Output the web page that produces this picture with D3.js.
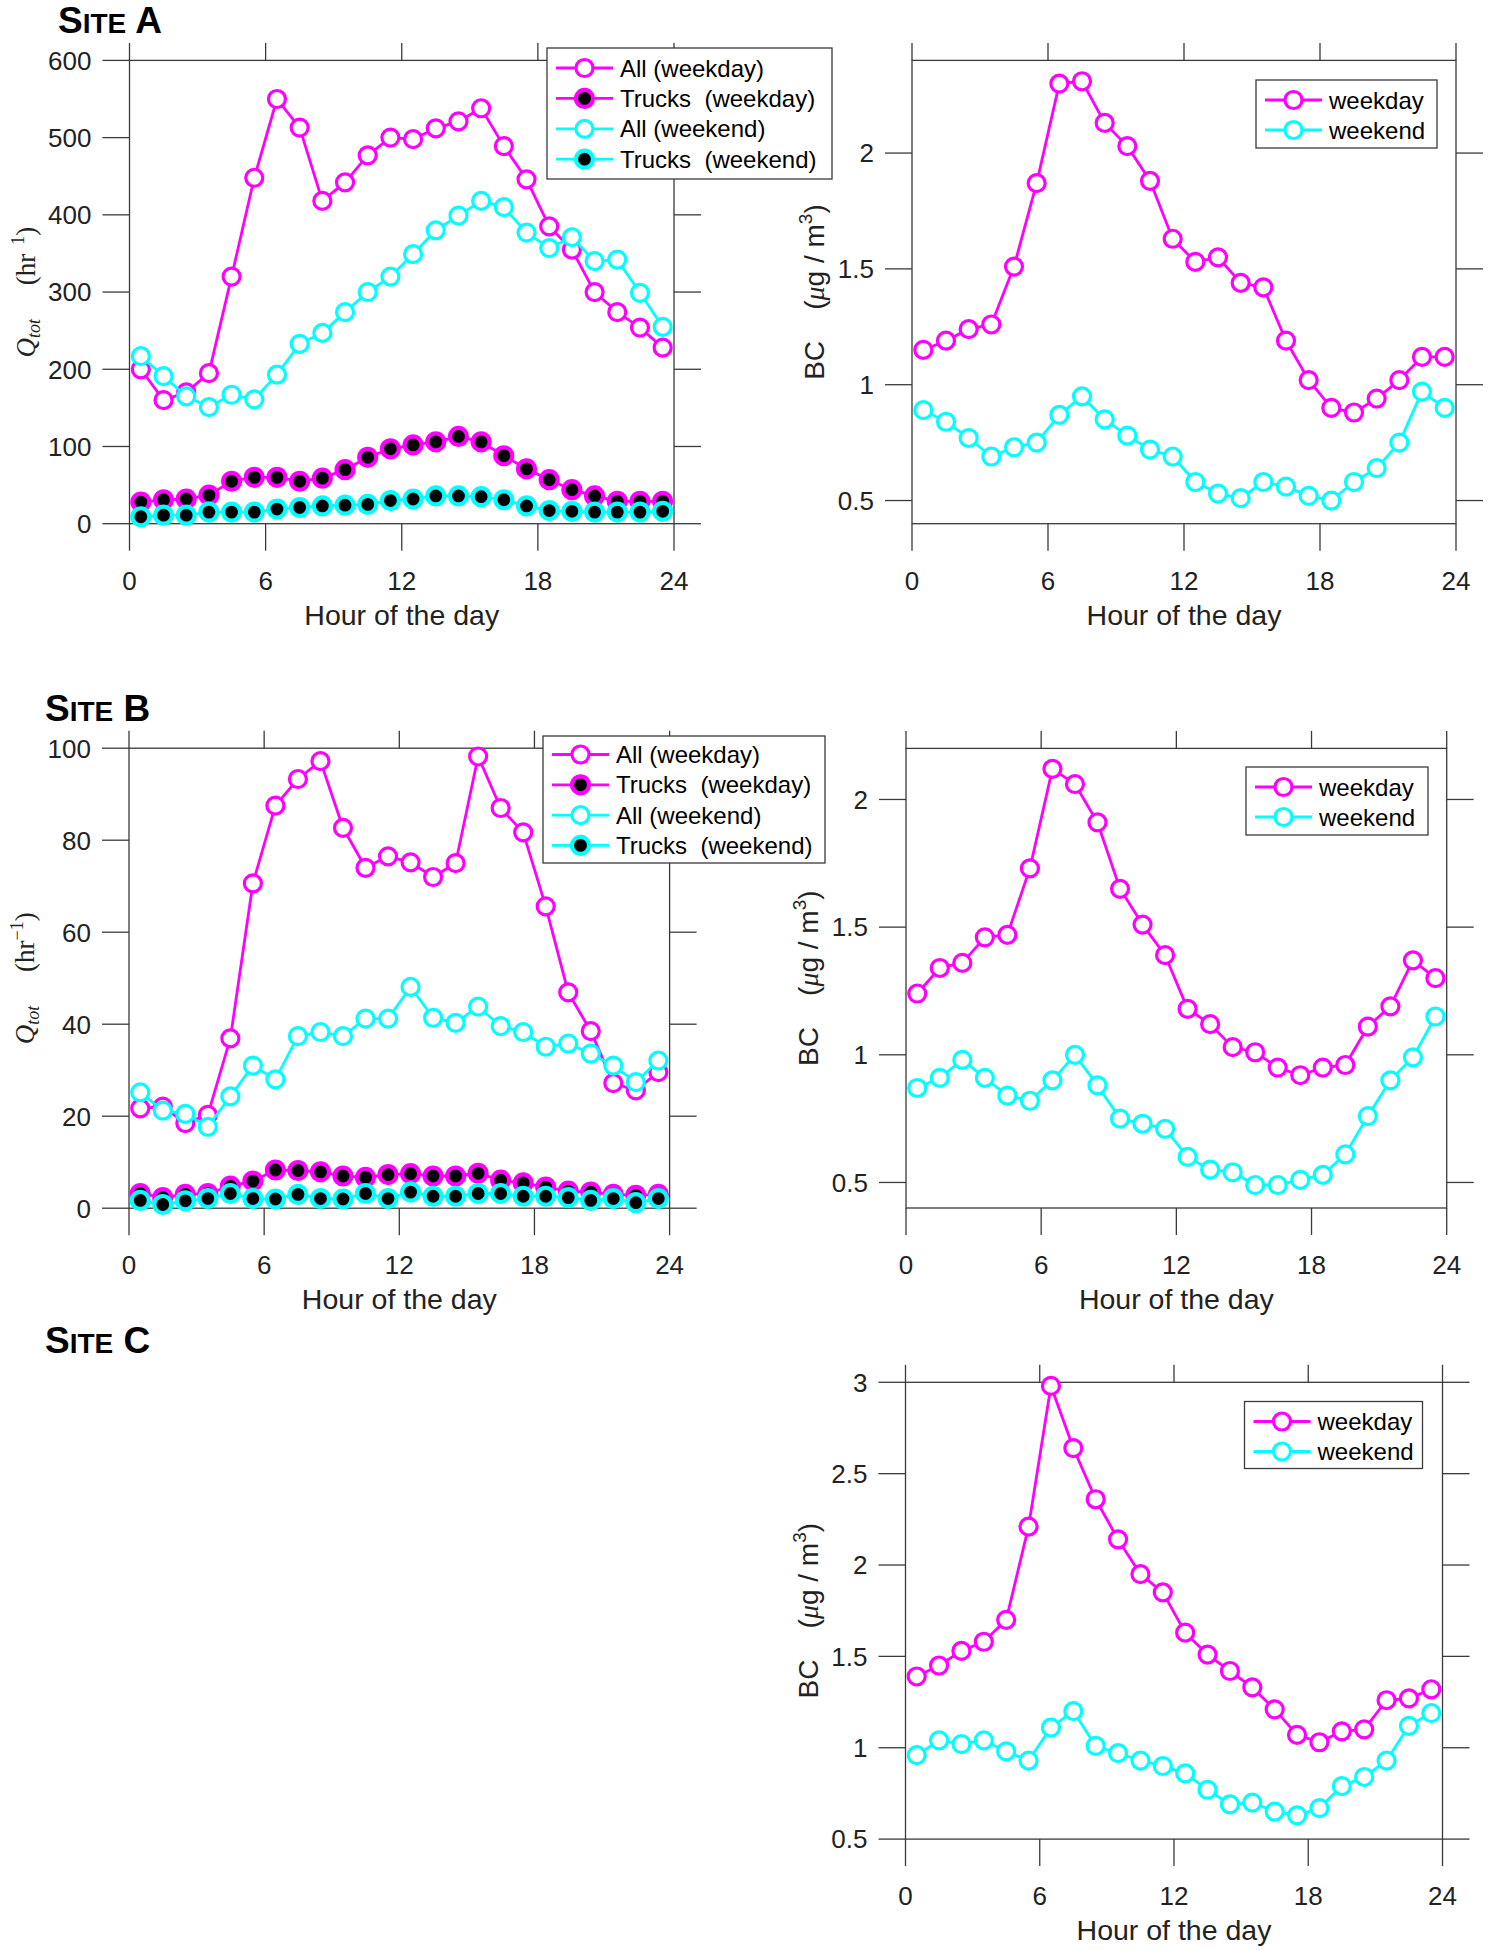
<!DOCTYPE html>
<html><head><meta charset="utf-8">
<script src="https://cdn.jsdelivr.net/npm/d3@7"></script>
<style>body{margin:0;background:#fff} svg{display:block}</style>
</head><body>
<svg id="chart" width="1489" height="1950"></svg>
<script>
// ---------- data ----------
const hours = [0.5,1.5,2.5,3.5,4.5,5.5,6.5,7.5,8.5,9.5,10.5,11.5,12.5,13.5,14.5,15.5,16.5,17.5,18.5,19.5,20.5,21.5,22.5,23.5];
const xTicks = [0,6,12,18,24];
const xTickLabels = ["0","6","12","18","24"];

// Site A traffic (hr^-1)
const siteA_allWeekday    = [200,160,170,195,320,448,550,513,418,442,477,500,498,512,521,538,489,446,385,355,300,274,254,228];
const siteA_trucksWeekday = [28,31,32,37,55,60,60,55,59,70,86,97,102,106,113,106,88,71,57,44,36,29,29,29];
const siteA_allWeekend    = [217,191,165,151,167,161,193,233,247,274,300,320,349,380,399,418,410,377,357,371,340,342,299,255];
const siteA_trucksWeekend = [9,11,11,15,15,15,19,21,23,24,25,30,32,36,36,35,31,23,17,16,15,15,15,16];
// Site A BC (ug/m3)
const siteA_bcWeekday = [1.15,1.19,1.24,1.26,1.51,1.87,2.30,2.31,2.13,2.03,1.88,1.63,1.53,1.55,1.44,1.42,1.19,1.02,0.90,0.88,0.94,1.02,1.12,1.12];
const siteA_bcWeekend = [0.89,0.84,0.77,0.69,0.73,0.75,0.87,0.95,0.85,0.78,0.72,0.69,0.58,0.53,0.51,0.58,0.56,0.52,0.50,0.58,0.64,0.75,0.97,0.90];

// Site B traffic (hr^-1)
const siteB_allWeekday    = [21.7,22.1,18.5,20.3,36.9,70.6,87.5,93.3,97.2,82.7,74,76.5,75.2,72,75,98.2,87,81.7,65.6,46.9,38.5,27.2,25.6,29.6];
const siteB_trucksWeekday = [3.2,2.3,3,3.2,4.8,5.9,8.3,8.2,7.9,7,6.7,7.3,7.5,7,7,7.6,6.1,5.5,4.6,3.7,3.5,3,2.8,3];
const siteB_allWeekend    = [25.2,21.2,20.5,17.7,24.3,31,28,37.4,38.3,37.4,41.2,41.2,48.1,41.4,40.3,43.8,39.6,38.3,35.1,35.8,33.6,31,27.4,32.1];
const siteB_trucksWeekend = [1.7,0.8,1.6,2.1,3.2,2.1,2,3,2.1,2,3.2,2.1,3.5,2.6,2.6,3.2,3.2,2.6,2.6,2.3,1.7,2.1,1.2,2.1];
// Site B BC
const siteB_bcWeekday = [1.24,1.34,1.36,1.46,1.47,1.73,2.12,2.06,1.91,1.65,1.51,1.39,1.18,1.12,1.03,1.01,0.95,0.92,0.95,0.96,1.11,1.19,1.37,1.30];
const siteB_bcWeekend = [0.87,0.91,0.98,0.91,0.84,0.82,0.90,1.00,0.88,0.75,0.73,0.71,0.60,0.55,0.54,0.49,0.49,0.51,0.53,0.61,0.76,0.90,0.99,1.15];

// Site C BC
const siteC_bcWeekday = [1.39,1.45,1.53,1.58,1.70,2.21,2.98,2.64,2.36,2.14,1.95,1.85,1.63,1.51,1.42,1.33,1.21,1.07,1.03,1.09,1.10,1.26,1.27,1.32];
const siteC_bcWeekend = [0.96,1.04,1.02,1.04,0.98,0.93,1.11,1.20,1.01,0.97,0.93,0.90,0.86,0.77,0.69,0.70,0.65,0.63,0.67,0.79,0.84,0.93,1.12,1.19];

const qTicks = {A:[0,100,200,300,400,500,600], B:[0,20,40,60,80,100]};
const qTickLabels = {A:["0","100","200","300","400","500","600"], B:["0","20","40","60","80","100"]};
const bcTicksAB = [0.5,1,1.5,2];
const bcTickLabelsAB = ["0.5","1","1.5","2"];
const bcTicksC = [0.5,1,1.5,2,2.5,3];
const bcTickLabelsC = ["0.5","1","1.5","2","2.5","3"];

const trafficNames = ["All (weekday)","Trucks  (weekday)","All (weekend)","Trucks  (weekend)"];
const bcNames = ["weekday","weekend"];
const siteTitles = [["S","ITE"," A"],["S","ITE"," B"],["S","ITE"," C"]];

// ---------- style ----------
const MAG = "#ff00ff", CYA = "#00ffff", AX = "#3a3a3a";
const SANS = "'Liberation Sans', Arial, sans-serif";
const SERIF = "'Liberation Serif', 'Times New Roman', serif";
const seriesStyles = [
  {color:MAG, fill:"#ffffff", r:8.5, sw:3.2},
  {color:MAG, fill:"#000000", r:8.5, sw:4.2},
  {color:CYA, fill:"#ffffff", r:8.5, sw:3.2},
  {color:CYA, fill:"#000000", r:8.5, sw:4.2}
];
const bcStyles = [seriesStyles[0], seriesStyles[2]];

const svg = d3.select("#chart");

function drawTitle(parts, x, y){
  const t = svg.append("text").attr("x",x).attr("y",y)
    .attr("font-family",SANS).attr("font-weight","bold").attr("fill","#000");
  t.append("tspan").attr("font-size",37).text(parts[0]);
  t.append("tspan").attr("font-size",28).text(parts[1]);
  t.append("tspan").attr("font-size",37).attr("xml:space","preserve").text(parts[2]);
}

function drawPanel(cfg){
  const x = d3.scaleLinear().domain([0,24]).range([cfg.x0,cfg.x1]);
  const y = d3.scaleLinear().domain(cfg.domain).range([cfg.yBot,cfg.yTop]);
  const g = svg.append("g");

  // box
  g.append("rect").attr("x",cfg.x0).attr("y",cfg.yTop)
    .attr("width",cfg.x1-cfg.x0).attr("height",cfg.yBot-cfg.yTop)
    .attr("fill","none").attr("stroke",AX).attr("stroke-width",1.3);
  // outward y ticks on left and right
  g.selectAll(null).data(cfg.yTicks).join("line")
    .attr("x1",cfg.x0-27).attr("x2",cfg.x0)
    .attr("y1",d=>y(d)).attr("y2",d=>y(d))
    .attr("stroke",AX).attr("stroke-width",1.3);
  g.selectAll(null).data(cfg.yTicks).join("line")
    .attr("x1",cfg.x1).attr("x2",cfg.x1+27)
    .attr("y1",d=>y(d)).attr("y2",d=>y(d))
    .attr("stroke",AX).attr("stroke-width",1.3);
  // outward x ticks on top and bottom
  g.selectAll(null).data(xTicks).join("line")
    .attr("x1",d=>x(d)).attr("x2",d=>x(d))
    .attr("y1",cfg.yTop-17.5).attr("y2",cfg.yTop)
    .attr("stroke",AX).attr("stroke-width",1.3);
  g.selectAll(null).data(xTicks).join("line")
    .attr("x1",d=>x(d)).attr("x2",d=>x(d))
    .attr("y1",cfg.yBot).attr("y2",cfg.yBot+27)
    .attr("stroke",AX).attr("stroke-width",1.3);

  // tick labels
  g.selectAll(null).data(cfg.yTicks).join("text")
    .attr("x",cfg.x0-38).attr("y",d=>y(d)).attr("dy","0.36em")
    .attr("text-anchor","end").attr("font-family",SANS).attr("font-size",26).attr("fill","#222")
    .text((d,i)=>cfg.yTickLabels[i]);
  g.selectAll(null).data(xTicks).join("text")
    .attr("x",d=>x(d)).attr("y",cfg.yBot+66)
    .attr("text-anchor","middle").attr("font-family",SANS).attr("font-size",26).attr("fill","#222")
    .text((d,i)=>xTickLabels[i]);

  // x label
  g.append("text").attr("x",(cfg.x0+cfg.x1)/2).attr("y",cfg.yBot+101)
    .attr("text-anchor","middle").attr("font-family",SANS).attr("font-size",28.5).attr("fill","#222")
    .text("Hour of the day");

  // y label
  const cy = (cfg.yTop+cfg.yBot)/2;
  if(cfg.kind==="Q"){
    const t = g.append("text").attr("transform",`translate(${cfg.x0-95},${cy}) rotate(-90)`)
      .attr("text-anchor","middle").attr("font-family",SERIF).attr("fill","#222").attr("xml:space","preserve");
    t.append("tspan").attr("font-size",27).attr("font-style","italic").text("Q");
    t.append("tspan").attr("font-size",18).attr("font-style","italic").attr("dy",5).text("tot");
    t.append("tspan").attr("font-size",27).attr("dy",-5).text("     (hr");
    t.append("tspan").attr("font-size",18).attr("dy",-11).text(cfg.supText);
    t.append("tspan").attr("font-size",27).attr("dy",11).text(")");
  } else {
    const t = g.append("text").attr("transform",`translate(${cfg.x0-88},${cy}) rotate(-90)`)
      .attr("text-anchor","middle").attr("font-family",SANS).attr("fill","#222").attr("xml:space","preserve");
    t.append("tspan").attr("font-size",28).text("BC    (");
    t.append("tspan").attr("font-size",28).attr("font-family",SERIF).attr("font-style","italic").text("\u03bc");
    t.append("tspan").attr("font-size",28).text("g / m");
    t.append("tspan").attr("font-size",19).attr("dy",-12).text("3");
    t.append("tspan").attr("font-size",28).attr("dy",12).text(")");
  }

  // series
  const line = d3.line().x((d,i)=>x(hours[i])).y(d=>y(d));
  cfg.series.forEach((vals,si)=>{
    const st = cfg.styles[si];
    g.append("path").datum(vals).attr("d",line)
      .attr("fill","none").attr("stroke",st.color).attr("stroke-width",2.8).attr("stroke-linejoin","round");
    g.selectAll(null).data(vals).join("circle")
      .attr("cx",(d,i)=>x(hours[i])).attr("cy",d=>y(d)).attr("r",st.r)
      .attr("fill",st.fill).attr("stroke",st.color).attr("stroke-width",st.sw);
  });

  // legend
  const L = cfg.legend;
  const lg = svg.append("g");
  lg.append("rect").attr("x",L.x).attr("y",L.y).attr("width",L.w).attr("height",L.h)
    .attr("fill","#fff").attr("stroke",AX).attr("stroke-width",1.3);
  cfg.names.forEach((nm,i)=>{
    const ry = L.y + L.first + L.step*i;
    const st = cfg.styles[i];
    lg.append("line").attr("x1",L.x+9).attr("x2",L.x+66).attr("y1",ry).attr("y2",ry)
      .attr("stroke",st.color).attr("stroke-width",2.8);
    lg.append("circle").attr("cx",L.x+37.5).attr("cy",ry).attr("r",st.r)
      .attr("fill",st.fill).attr("stroke",st.color).attr("stroke-width",st.sw);
    lg.append("text").attr("x",L.x+73).attr("y",ry).attr("dy","0.36em")
      .attr("font-family",SANS).attr("font-size",24).attr("fill","#000").attr("xml:space","preserve")
      .text(nm);
  });
}

// ---------- layout ----------
drawTitle(siteTitles[0], 58, 33);
drawTitle(siteTitles[1], 45, 721);
drawTitle(siteTitles[2], 45, 1353);

drawPanel({kind:"Q", x0:129.5, x1:674, yTop:60.4, yBot:523.7, domain:[0,600],
  yTicks:qTicks.A, yTickLabels:qTickLabels.A, supText:"  1",
  series:[siteA_allWeekday,siteA_trucksWeekday,siteA_allWeekend,siteA_trucksWeekend],
  styles:seriesStyles, names:trafficNames,
  legend:{x:547,y:48,w:285,h:131,first:20,step:30.4}});

drawPanel({kind:"BC", x0:912, x1:1456, yTop:60.4, yBot:523.7, domain:[0.4,2.4],
  yTicks:bcTicksAB, yTickLabels:bcTickLabelsAB,
  series:[siteA_bcWeekday,siteA_bcWeekend], styles:bcStyles, names:bcNames,
  legend:{x:1256,y:80,w:181,h:68,first:20,step:30}});

drawPanel({kind:"Q", x0:129, x1:669.6, yTop:748.2, yBot:1208.2, domain:[0,100],
  yTicks:qTicks.B, yTickLabels:qTickLabels.B, supText:"\u22121",
  series:[siteB_allWeekday,siteB_trucksWeekday,siteB_allWeekend,siteB_trucksWeekend],
  styles:seriesStyles, names:trafficNames,
  legend:{x:543,y:736,w:282,h:127,first:18.5,step:30.3}});

drawPanel({kind:"BC", x0:906, x1:1446.7, yTop:748.4, yBot:1208, domain:[0.4,2.2],
  yTicks:bcTicksAB, yTickLabels:bcTickLabelsAB,
  series:[siteB_bcWeekday,siteB_bcWeekend], styles:bcStyles, names:bcNames,
  legend:{x:1246,y:767,w:182,h:68,first:20,step:30}});

drawPanel({kind:"BC", x0:905.5, x1:1442.5, yTop:1382.3, yBot:1839.1, domain:[0.5,3],
  yTicks:bcTicksC, yTickLabels:bcTickLabelsC,
  series:[siteC_bcWeekday,siteC_bcWeekend], styles:bcStyles, names:bcNames,
  legend:{x:1244.5,y:1401.5,w:178,h:67,first:20,step:30}});
</script>
</body></html>
